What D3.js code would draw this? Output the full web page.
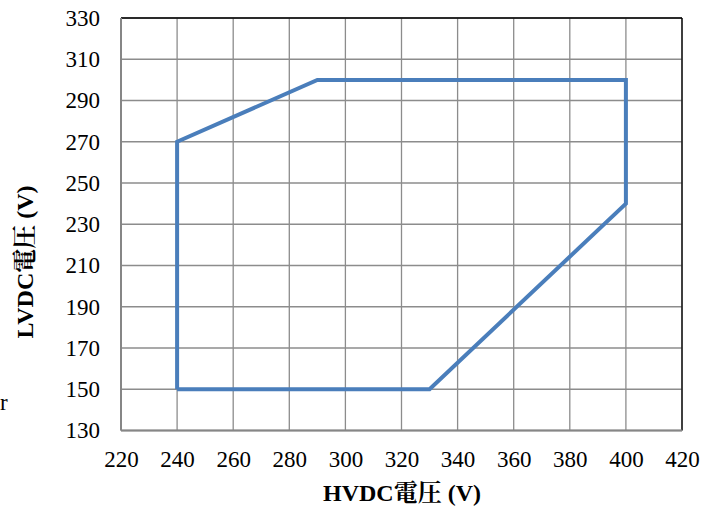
<!DOCTYPE html>
<html><head><meta charset="utf-8">
<script src="https://cdn.jsdelivr.net/npm/d3@7"></script>
<style>body{margin:0;background:#fff} svg text{font-family:"Liberation Serif","Times New Roman",serif;fill:#000}</style>
</head><body>
<svg id="c" width="710" height="508"></svg>
<script>
const hvdc = [240, 240, 290, 400, 400, 330, 240];
const lvdc = [150, 270, 300, 300, 240, 150, 150];
const xTicks = [220,240,260,280,300,320,340,360,380,400,420];
const yTicks = [130,150,170,190,210,230,250,270,290,310,330];
const xTitle = "HVDC電圧 (V)";
const yTitle = "LVDC電圧 (V)";

const svg = d3.select("#c");
const L=121, R=682, T=18, B=430.5;
const x = d3.scaleLinear().domain([220,420]).range([L,R]);
const y = d3.scaleLinear().domain([130,330]).range([B,T]);
const serif = '"Liberation Serif","Times New Roman",serif';
const cjkSerif = '"Liberation Serif","Noto Serif CJK JP","Noto Sans CJK JP",serif';

const g = svg.append("g");
g.selectAll(".vx").data(xTicks).join("line")
 .attr("x1",d=>x(d)).attr("x2",d=>x(d)).attr("y1",T).attr("y2",B)
 .attr("stroke","#8c8c8c").attr("stroke-width",1.3);
g.selectAll(".hy").data(yTicks).join("line")
 .attr("x1",L).attr("x2",R).attr("y1",d=>y(d)).attr("y2",d=>y(d))
 .attr("stroke","#8c8c8c").attr("stroke-width",1.3);
g.append("line").attr("x1",L).attr("x2",R).attr("y1",T).attr("y2",T).attr("stroke","#000").attr("stroke-width",1.3);
g.append("line").attr("x1",R).attr("x2",R).attr("y1",T).attr("y2",B).attr("stroke","#000").attr("stroke-width",1.3);
g.append("line").attr("x1",L).attr("x2",L).attr("y1",T).attr("y2",B).attr("stroke","#868686").attr("stroke-width",2);
g.append("line").attr("x1",L).attr("x2",R).attr("y1",B).attr("y2",B).attr("stroke","#868686").attr("stroke-width",2);

const xa = svg.append("g").attr("transform",`translate(0,${B})`)
 .call(d3.axisBottom(x).tickValues(xTicks).tickSize(0).tickPadding(20));
xa.attr("font-family",null).attr("font-size",null);
xa.select(".domain").remove();
xa.selectAll("text").style("font-family",serif).style("font-size","23px").attr("fill","#000");
const ya = svg.append("g").attr("transform",`translate(${L},0)`)
 .call(d3.axisLeft(y).tickValues(yTicks).tickSize(0).tickPadding(21));
ya.attr("font-family",null).attr("font-size",null);
ya.select(".domain").remove();
ya.selectAll("text").style("font-family",serif).style("font-size","23px").attr("fill","#000");

const pts = hvdc.map((h,i)=>[h,lvdc[i]]);
svg.append("path").datum(pts)
 .attr("d", d3.line().x(d=>x(d[0])).y(d=>y(d[1])))
 .attr("fill","none").attr("stroke","#4a7ebb").attr("stroke-width",4).attr("stroke-linejoin","miter");

svg.append("text").attr("x",402).attr("y",501).attr("text-anchor","middle")
 .style("font-family",cjkSerif).style("font-weight","bold").style("font-size","24px").text(xTitle);
svg.append("text").attr("transform","translate(33,262) rotate(-90)").attr("text-anchor","middle")
 .style("font-family",cjkSerif).style("font-weight","bold").style("font-size","24px").text(yTitle);
svg.append("text").attr("x",0).attr("y",410).style("font-family",serif).style("font-size","23px").text("r");
</script>
</body></html>
